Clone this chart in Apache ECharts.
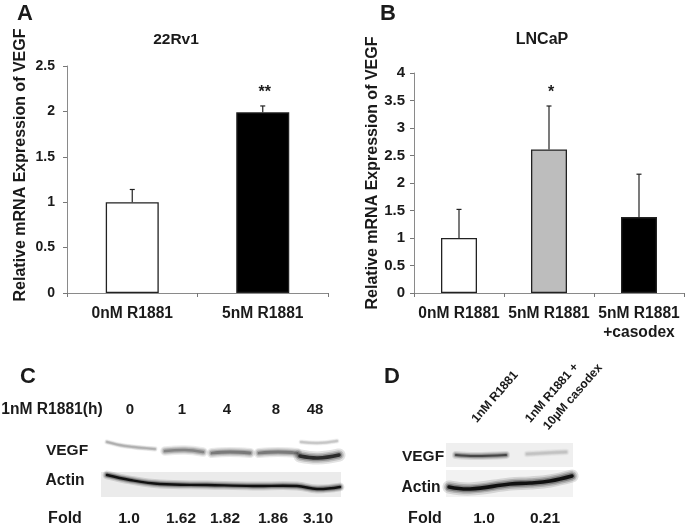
<!DOCTYPE html>
<html><head><meta charset="utf-8">
<script src="https://cdn.jsdelivr.net/npm/echarts@6/dist/echarts.min.js"></script>
<style>html,body{margin:0;padding:0;background:#fff}#c{width:685px;height:528px}</style></head>
<body><div id="c"></div>
<script>
var catsA = ['0nM R1881', '5nM R1881'];
var valsA = [1, 1.99];
var errTopA = [1.14, 2.06];
var starsA = ['', '**'];
var colorsA = ['#ffffff', '#000000'];
var catsB = ['0nM R1881', '5nM R1881', '5nM R1881\n+casodex'];
var valsB = [1, 2.61, 1.38];
var errTopB = [1.52, 3.4, 2.16];
var starsB = ['', '*', ''];
var colorsB = ['#ffffff', '#bdbdbd', '#000000'];
var hoursC = ['0', '1', '4', '8', '48'];
var foldC = ['1.0', '1.62', '1.82', '1.86', '3.10'];
var foldD = ['1.0', '0.21'];

var FONT = '"Liberation Sans", Arial, sans-serif';
var INK = '#1a1a1a';
var chart = echarts.init(document.getElementById('c'), null, {renderer: 'canvas'});

function xAxis(idx, cats) {
  return {gridIndex: idx, type: 'category', data: cats,
    axisLine: {lineStyle: {color: '#8a8a8a', width: 1}},
    axisTick: {show: true, alignWithLabel: false, length: 4, lineStyle: {color: '#777'}},
    axisLabel: {color: INK, fontFamily: FONT, fontWeight: 'bold', fontSize: 15.6, margin: 11, interval: 0, lineHeight: 19}};
}
function yAxis(idx, max, size, margin) {
  return {gridIndex: idx, type: 'value', min: 0, max: max, interval: 0.5,
    splitLine: {show: false},
    axisLine: {show: true, lineStyle: {color: '#8a8a8a', width: 1}},
    axisTick: {show: true, length: 4, lineStyle: {color: '#777'}},
    axisLabel: {color: INK, fontFamily: FONT, fontWeight: 'bold', fontSize: size, margin: margin}};
}
function bars(idx, vals, colors, width) {
  return {type: 'bar', xAxisIndex: idx, yAxisIndex: idx, barWidth: width, silent: true,
    data: vals.map(function (v, i) {
      return {value: v, itemStyle: {color: colors[i], borderColor: '#222', borderWidth: 1.3}};
    })};
}
function errors(idx, vals, tops, stars, capHalf) {
  return {type: 'custom', xAxisIndex: idx, yAxisIndex: idx, silent: true, z: 1,
    data: vals.map(function (v, i) { return [i, v, tops[i], stars[i]]; }),
    renderItem: function (p, api) {
      var lo = api.coord([api.value(0), api.value(1)]);
      var hi = api.coord([api.value(0), api.value(2)]);
      var st = {stroke: '#222', lineWidth: 1.2};
      var star = stars[p.dataIndex];
      var kids = [
        {type: 'line', shape: {x1: lo[0], y1: lo[1], x2: hi[0], y2: hi[1]}, style: st},
        {type: 'line', shape: {x1: hi[0] - capHalf, y1: hi[1], x2: hi[0] + capHalf, y2: hi[1]}, style: st}
      ];
      if (star) kids.push({type: 'text', style: {text: star, x: hi[0] + 2, y: hi[1] - 5,
        fill: INK, font: 'bold 16px ' + FONT, textAlign: 'center', textVerticalAlign: 'bottom'}});
      return {type: 'group', children: kids};
    }};
}

/* text helper */
function T(text, x, y, size, rot) {
  return {type: 'text', x: x, y: y, rotation: (rot || 0) * Math.PI / 180, silent: true,
    style: {text: text, fill: INK, font: 'bold ' + size + 'px ' + FONT, align: 'center', verticalAlign: 'middle'}};
}
function R(x, y, w, h, c) {
  return {type: 'rect', shape: {x: x, y: y, width: w, height: h}, silent: true, style: {fill: c}};
}
/* soft blot band: overlaid strokes fade outwards */
function B(pts, width, grey, core) {
  var layer = function (w, a) {
    return {type: 'polyline', shape: {points: pts, smooth: 0.4}, silent: true,
      style: {fill: null, stroke: 'rgba(' + grey + ',' + grey + ',' + grey + ',' + a + ')',
        lineWidth: w, lineCap: 'round'}};
  };
  return {type: 'group', silent: true, children: [
    layer(width * 2.2, 0.12), layer(width * 1.6, 0.18), layer(width * 1.1, 0.28), layer(width * 0.6, core || 0.5)
  ]};
}

var hourX = [130, 182, 227, 276, 315];
var foldX = [129, 181, 225, 273, 318];
var foldDX = [484, 545];
var yName = 'Relative mRNA Expression of VEGF';

var gfx = [
  T('A', 25, 14, 22), T('B', 388, 14, 22), T('C', 28, 377, 22), T('D', 392, 377, 22),
  T('22Rv1', 176, 40, 15.5), T('LNCaP', 542, 40, 16),
  T(yName, 21, 165, 16, 90), T(yName, 373, 173, 16, 90),

  /* panel C */
  T('1nM R1881(h)', 52, 410, 15.6),
  T('VEGF', 67, 451, 15.5), T('Actin', 65, 481, 15.6), T('Fold', 65, 519, 16),
  R(101, 472, 240, 25, '#ebebeb'),
  B([[107,442],[125,446],[155,449]], 2.4, 130, 0.3),
  B([[165,451],[185,450],[203,452]], 4.4, 90),
  B([[212,453],[230,452],[250,453]], 4.6, 75),
  B([[259,453],[278,452],[297,453]], 4.6, 75),
  B([[300,456],[318,458],[339,455]], 6, 25, 0.85),
  B([[301,442],[318,443],[337,441]], 2.2, 160, 0.22),
  B([[107,475],[130,480],[160,484],[207,485],[253,486],[297,486],[317,489],[340,487]], 4, 5, 0.9),

  /* panel D */
  T('1nM R1881', 495, 397, 12.2, 49),
  T('1nM R1881 +', 552, 393, 12.2, 49),
  T('10µM casodex', 573, 397, 12.2, 49),
  R(446, 443, 127, 24, '#efefef'),
  R(446, 470, 127, 27, '#f2f2f2'),
  B([[456,455],[475,456],[506,455]], 3.6, 40, 0.7),
  B([[527,454],[545,453],[566,452]], 3, 170, 0.3),
  B([[449,487],[470,489],[510,484],[530,483],[550,481],[572,476]], 6, 5, 0.9),
  T('VEGF', 423, 457, 15.5), T('Actin', 421, 488, 15.6), T('Fold', 425, 519, 16)
];
hoursC.forEach(function (s, i) { gfx.push(T(s, hourX[i], 410, 15)); });
foldC.forEach(function (s, i) { gfx.push(T(s, foldX[i], 519, 15.5)); });
foldD.forEach(function (s, i) { gfx.push(T(s, foldDX[i], 519, 15.5)); });

chart.setOption({
  animation: false,
  backgroundColor: '#fff',
  grid: [
    {left: 67, top: 66, width: 261, height: 227},
    {left: 414, top: 73, width: 270, height: 220}
  ],
  xAxis: [xAxis(0, catsA), xAxis(1, catsB)],
  yAxis: [yAxis(0, 2.5, 14, 12), yAxis(1, 4, 15, 9)],
  series: [
    errors(0, valsA, errTopA, starsA, 2.5),
    bars(0, valsA, colorsA, 53),
    errors(1, valsB, errTopB, starsB, 2.5),
    bars(1, valsB, colorsB, 36)
  ],
  graphic: {elements: gfx}
});
</script></body></html>
